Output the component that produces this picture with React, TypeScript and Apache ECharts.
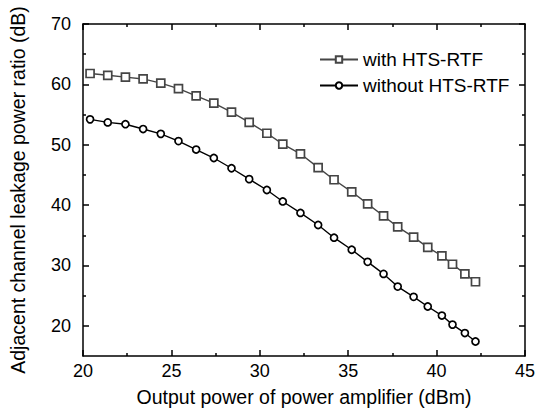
import React, { useEffect, useRef } from "react";
import * as echarts from "echarts";

const xValues = [20.4, 21.4, 22.4, 23.4, 24.4, 25.4, 26.4, 27.4, 28.4, 29.4, 30.4, 31.3, 32.3, 33.3, 34.2, 35.2, 36.1, 37.0, 37.8, 38.7, 39.5, 40.3, 40.9, 41.6, 42.2];
const withRtf = [61.8, 61.5, 61.2, 60.9, 60.2, 59.3, 58.1, 56.9, 55.4, 53.7, 51.9, 50.1, 48.5, 46.2, 44.2, 42.2, 40.2, 38.2, 36.4, 34.7, 33.0, 31.6, 30.2, 28.6, 27.3];
const withoutRtf = [54.2, 53.7, 53.4, 52.6, 51.8, 50.6, 49.2, 47.8, 46.1, 44.3, 42.5, 40.6, 38.7, 36.7, 34.6, 32.6, 30.6, 28.6, 26.5, 24.8, 23.2, 21.7, 20.2, 18.8, 17.4];
const yMajorTicks = [20, 30, 40, 50, 60, 70];
const yMinorTicks = [25, 35, 45, 55, 65];
const seriesNames = ["with HTS-RTF", "without HTS-RTF"];

const FONT = "'Liberation Sans', Arial, sans-serif";

export default function App() {
  const ref = useRef<HTMLDivElement>(null);
  useEffect(() => {
    if (!ref.current) return;
    const chart = echarts.init(ref.current, null, { renderer: "svg" });
    const grid = { left: 79, top: 24, right: 10, bottom: 51 };
    const hiddenLabel = { show: false };
    const xCommon = { type: "value", min: 20, max: 45, interval: 5, splitLine: { show: false } };
    const yCommon = { type: "value", min: 15, max: 70, splitLine: { show: false } };
    const lineStyle = { color: "#000", width: 1.5 };
    chart.setOption({
      animation: false,
      backgroundColor: "#fff",
      textStyle: { fontFamily: FONT },
      grid,
      legend: {
        orient: "vertical",
        left: 314,
        top: 45,
        itemWidth: 38,
        itemHeight: 8,
        itemGap: 7,
        data: seriesNames,
        textStyle: { fontSize: 19, color: "#000", fontFamily: FONT },
      },
      xAxis: [
        {
          ...xCommon,
          position: "bottom",
          name: "Output power of power amplifier (dBm)",
          nameLocation: "middle",
          nameGap: 31,
          nameTextStyle: { fontSize: 19.5, color: "#000", fontFamily: FONT },
          axisLine: { show: true, lineStyle },
          axisTick: { show: true, inside: true, length: 6, lineStyle },
          minorTick: { show: true, splitNumber: 2, length: 3, lineStyle },
          axisLabel: { fontSize: 18, color: "#000", margin: 6, fontFamily: FONT },
        },
        {
          ...xCommon,
          position: "top",
          axisLine: { show: true, onZero: false, lineStyle },
          axisTick: { show: true, inside: true, length: 6, lineStyle },
          minorTick: { show: true, splitNumber: 2, length: 3, lineStyle },
          axisLabel: hiddenLabel,
        },
      ],
      yAxis: [
        {
          ...yCommon,
          position: "left",
          name: "Adjacent channel leakage power ratio (dB)",
          nameLocation: "middle",
          nameGap: 55,
          nameTextStyle: { fontSize: 19.5, color: "#000", fontFamily: FONT },
          axisLine: { show: true, lineStyle },
          axisTick: { show: true, inside: true, length: 6, lineStyle, customValues: yMajorTicks },
          axisLabel: { fontSize: 18, color: "#000", margin: 12, fontFamily: FONT, customValues: yMajorTicks },
        },
        {
          ...yCommon,
          position: "left",
          axisLine: { show: false },
          axisTick: { show: true, inside: true, length: 3, lineStyle, customValues: yMinorTicks },
          axisLabel: { show: false, customValues: yMinorTicks },
        },
        {
          ...yCommon,
          position: "right",
          axisLine: { show: true, onZero: false, lineStyle },
          axisTick: { show: true, inside: true, length: 6, lineStyle, customValues: yMajorTicks },
          axisLabel: { show: false, customValues: yMajorTicks },
        },
        {
          ...yCommon,
          position: "right",
          axisLine: { show: false },
          axisTick: { show: true, inside: true, length: 3, lineStyle, customValues: yMinorTicks },
          axisLabel: { show: false, customValues: yMinorTicks },
        },
      ],
      series: [
        {
          name: seriesNames[0],
          type: "line",
          xAxisIndex: 0,
          yAxisIndex: 0,
          data: xValues.map((x, i) => [x, withRtf[i]]),
          symbol: "rect",
          symbolSize: 8,
          showAllSymbol: true,
          lineStyle: { color: "#454545", width: 1.4 },
          itemStyle: { color: "#fff", borderColor: "#454545", borderWidth: 1.7 },
        },
        {
          name: seriesNames[1],
          type: "line",
          xAxisIndex: 0,
          yAxisIndex: 0,
          data: xValues.map((x, i) => [x, withoutRtf[i]]),
          symbol: "circle",
          symbolSize: 7,
          showAllSymbol: true,
          lineStyle: { color: "#000", width: 1.4 },
          itemStyle: { color: "#fff", borderColor: "#000", borderWidth: 1.7 },
        },
      ],
    });
    return () => chart.dispose();
  }, []);
  return <div ref={ref} style={{ width: 538, height: 412, position: "absolute", left: 0, top: 0 }} />;
}
